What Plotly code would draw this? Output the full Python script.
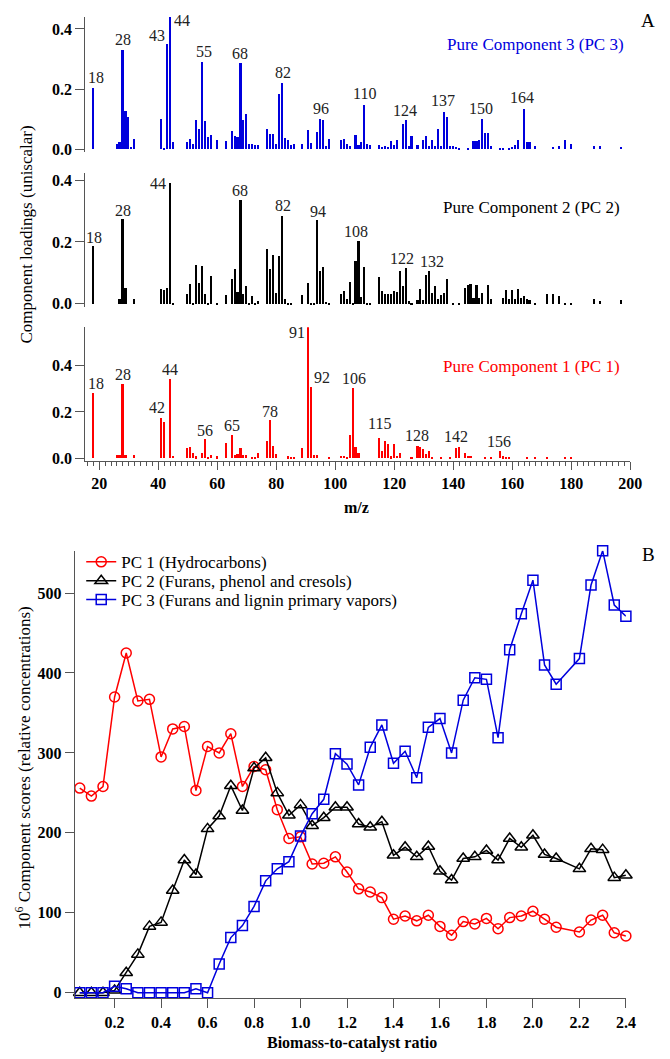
import plotly.graph_objects as go

W, H = 670, 1059
FONT = "Liberation Serif, Times New Roman, serif"
AX = "#555555"
BLUE = "#0000dd"
RED = "#ff0000"
BLACK = "#000000"

# ---------------- Panel A : pure component mass spectra ----------------
pc3_mz = [15, 18, 26, 27, 28, 29, 30, 31, 32, 41, 42, 43, 44, 45, 50, 51, 52, 53, 54, 55, 56, 57, 58, 60,
          63, 65, 66, 67, 68, 69, 70, 71, 72, 73, 74, 77, 78, 79, 80, 81, 82, 83, 84, 85, 86, 89, 91, 92,
          94, 95, 96, 97, 98, 102, 103, 104, 105, 107, 108, 109, 110, 111, 112, 115, 116, 117, 118, 119,
          120, 121, 123, 124, 125, 126, 128, 130, 131, 132, 133, 134, 135, 136, 137, 138, 139, 140, 141,
          142, 145, 147, 148, 149, 150, 151, 152, 153, 156, 157, 159, 160, 161, 162, 164, 165, 166, 168,
          174, 176, 178, 180, 188, 190, 197]
pc3_val = [0.011, 0.204, 0.018, 0.025, 0.33, 0.127, 0.108, 0.009, 0.036, 0.102, 0.003, 0.35, 0.44, 0.026,
           0.026, 0.036, 0.018, 0.097, 0.067, 0.29, 0.093, 0.04, 0.048, 0.031,
           0.027, 0.062, 0.043, 0.04, 0.287, 0.097, 0.119, 0.018, 0.018, 0.014, 0.014, 0.067, 0.052, 0.052,
           0.018, 0.185, 0.22, 0.037, 0.03, 0.013, 0.018, 0.018, 0.064, 0.021,
           0.058, 0.1, 0.099, 0.012, 0.033, 0.031, 0.033, 0.018, 0.012, 0.048, 0.016, 0.023, 0.146, 0.018,
           0.016, 0.014, 0.008, 0.012, 0.008, 0.027,
           0.016, 0.03, 0.086, 0.097, 0.012, 0.045, 0.014, 0.031, 0.046, 0.012, 0.031, 0.012, 0.067, 0.012,
           0.125, 0.108, 0.012, 0.012, 0.008,
           0.004, 0.002, 0.028, 0.028, 0.031, 0.1, 0.053, 0.053, 0.012, 0.002, 0.002, 0.005, 0.009, 0.014,
           0.031, 0.134, 0.023, 0.023, 0.012,
           0.009, 0.012, 0.03, 0.018, 0.012, 0.012, 0.008]

pc2_mz = [18, 27, 28, 29, 32, 41, 42, 43, 44, 45, 50, 51, 52, 53, 54, 55, 56, 57, 58, 60, 63, 65, 66, 67,
          68, 69, 70, 71, 72, 73, 74, 77, 78, 79, 80, 81, 82, 83, 84, 85, 89, 91, 92, 93, 94, 95, 96, 97,
          98, 102, 103, 104, 105, 106, 107, 108, 109, 110, 111, 112, 115, 116, 117, 118, 119, 120, 121,
          122, 123, 124, 125, 126, 128, 129, 130, 131, 132, 133, 134, 135, 136, 137, 138, 140, 142, 144,
          145, 146, 147, 148, 149, 150, 152, 153, 157, 158, 159, 160, 161, 162, 163, 164, 165, 166, 168,
          172, 174, 176, 178, 180, 188, 190, 197]
pc2_val = [0.188, 0.018, 0.275, 0.053, 0.018, 0.05, 0.047, 0.053, 0.394, 0.003, 0.034, 0.065, 0.003, 0.126,
           0.068, 0.123, 0.034, 0.003, 0.09, 0.003, 0.028, 0.08, 0.115, 0.04,
           0.336, 0.032, 0.059, 0.003, 0.026, 0.003, 0.01, 0.18, 0.115, 0.16, 0.035, 0.157, 0.287, 0.018,
           0.004, 0.003, 0.029, 0.067, 0.003, 0.003, 0.272, 0.108, 0.12, 0.007,
           0.003, 0.032, 0.042, 0.016, 0.072, 0.003, 0.139, 0.204, 0.024, 0.119, 0.004, 0.003, 0.088, 0.042,
           0.034, 0.034, 0.032, 0.044, 0.038,
           0.107, 0.058, 0.117, 0.011, 0.003, 0.013, 0.048, 0.013, 0.093, 0.107, 0.036, 0.059, 0.015, 0.031,
           0.036, 0.083, 0.003, 0.003, 0.051,
           0.062, 0.064, 0.02, 0.062, 0.019, 0.037, 0.062, 0.015, 0.02, 0.047, 0.015, 0.047, 0.015, 0.05,
           0.02, 0.026, 0.015, 0.013, 0.003,
           0.032, 0.032, 0.026, 0.004, 0.003, 0.016, 0.01, 0.013]

pc1_mz = [18, 26, 27, 28, 29, 32, 41, 42, 44, 45, 50, 51, 52, 53, 55, 56, 57, 58, 60, 63, 65, 66, 67, 68,
          69, 70, 72, 73, 74, 77, 78, 79, 80, 84, 85, 86, 89, 91, 92, 93, 94, 98, 102, 103, 104, 105, 106,
          107, 108, 115, 116, 117, 118, 119, 120, 121, 122, 126, 128, 129, 130, 131, 132, 133, 136, 139,
          141, 142, 144, 145, 146, 151, 153, 156, 157, 158, 159, 165, 168, 172, 178, 180]
pc1_val = [0.28, 0.013, 0.013, 0.32, 0.013, 0.013, 0.173, 0.157, 0.341, 0.009, 0.044, 0.049, 0.02, 0.007,
           0.02, 0.083, 0.004, 0.013, 0.007, 0.066, 0.099, 0.013, 0.016, 0.044,
           0.013, 0.013, 0.004, 0.004, 0.02, 0.074, 0.166, 0.054, 0.017, 0.007, 0.004, 0.004, 0.044, 0.565,
           0.306, 0.013, 0.013, 0.004, 0.011, 0.009, 0.003, 0.099, 0.301,
           0.05, 0.023, 0.087, 0.029, 0.074, 0.061, 0.007, 0.059, 0.011, 0.023, 0.004, 0.053, 0.05, 0.04,
           0.017, 0.031, 0.004, 0.004, 0.004,
           0.044, 0.049, 0.023, 0.011, 0.011, 0.004, 0.004, 0.029, 0.007, 0.004, 0.004, 0.004, 0.004,
           0.004, 0.004, 0.004]

# peak labels: (text, m/z of the bar it sits on, placement, dx, dy)
pc3_labels = [("18", 18, "top", 3, 0), ("28", 28, "top", 0, 0), ("43", 43, "top", -10, -2),
              ("44", 44, "right", 2, -4), ("55", 55, "top", 1, 0), ("68", 68, "top", -1, -1),
              ("82", 82, "top", 1, 0), ("96", 96, "top", -2, 0), ("110", 110, "top", 0, 1),
              ("124", 124, "top", -1, -1), ("137", 137, "top", -1, 1), ("150", 150, "top", -2, 0),
              ("164", 164, "top", -2, 1)]
pc2_labels = [("18", 18, "top", 1, -2), ("28", 28, "top", 0, -2), ("44", 44, "left", -2, -1),
              ("68", 68, "top", -1, -1), ("82", 82, "top", 1, -1), ("94", 94, "top", 0, -2),
              ("108", 108, "top", -3, -1), ("122", 124, "top", -4, -1), ("132", 132, "top", 2, -1)]
pc1_labels = [("18", 18, "top", 3, -1), ("28", 28, "top", 0, -1), ("42", 41, "top", -4, 0),
              ("44", 44, "top", 0, -1), ("56", 56, "top", 0, -2), ("65", 65, "top", 0, -1),
              ("78", 78, "top", 0, -2), ("91", 91, "left", -2, -5), ("92", 92, "rtop", 0, -1),
              ("106", 106, "top", 1, 0), ("115", 115, "top", 0, 4), ("128", 128, "top", -1, 0),
              ("142", 142, "top", -3, 0), ("156", 156, "top", -1, 0)]

mz_ticks = [20, 40, 60, 80, 100, 120, 140, 160, 180, 200]
load_ticks = [0.0, 0.2, 0.4]

# ---------------- Panel B : component scores ----------------
ratio = [0.05, 0.10, 0.15, 0.20, 0.25, 0.30, 0.35, 0.40, 0.45, 0.50, 0.55, 0.60, 0.65, 0.70, 0.75, 0.80,
         0.85, 0.90, 0.95, 1.00, 1.05, 1.10, 1.15, 1.20, 1.25, 1.30, 1.35, 1.40, 1.45, 1.50, 1.55, 1.60,
         1.65, 1.70, 1.75, 1.80, 1.85, 1.90, 1.95, 2.00, 2.05, 2.10, 2.20, 2.25, 2.30, 2.35, 2.40]
score_pc1 = [256, 246, 258, 370, 425, 365, 367, 295, 330, 333, 253, 308, 300, 324, 258, 283,
             279, 229, 193, 195, 161, 162, 170, 151, 130, 126, 119, 92, 96, 90, 97, 83,
             72, 89, 86, 93, 80, 94, 96, 102, 92, 82, 76, 91, 97, 75, 71]
score_pc2 = [0, 0, 0, 3, 25, 48, 83, 88, 128, 166, 148, 205, 221, 259, 228, 281,
             294, 250, 222, 235, 209, 219, 232, 232, 211, 207, 214, 172, 182, 170, 183, 152,
             141, 168, 170, 178, 166, 193, 182, 197, 173, 168, 155, 180, 179, 144, 147]
score_pc3 = [0, 0, 0, 8, 5, 0, 0, 0, 0, 0, 5, 0, 36, 69, 84, 108,
             140, 155, 164, 196, 224, 242, 299, 286, 260, 307, 335, 287, 302, 269, 332, 343,
             300, 366, 394, 392, 319, 429, 474, 516, 410, 386, 418, 510, 553, 485, 471]
ratio_ticks = [0.2, 0.4, 0.6, 0.8, 1.0, 1.2, 1.4, 1.6, 1.8, 2.0, 2.2, 2.4]
score_ticks = [0, 100, 200, 300, 400, 500]
series_names = ["PC 1 (Hydrocarbons)", "PC 2 (Furans, phenol and cresols)",
                "PC 3 (Furans and lignin primary vapors)"]


def px_x(p):
    return p / W


def px_y(p):
    return 1 - p / H


fig = go.Figure()

panels = [
    (pc3_mz, pc3_val, BLUE, "x", "y", pc3_labels),
    (pc2_mz, pc2_val, BLACK, "x2", "y2", pc2_labels),
    (pc1_mz, pc1_val, RED, "x3", "y3", pc1_labels),
]
for mz, val, col, xa, ya, labels in panels:
    fig.add_trace(go.Bar(x=mz, y=val, width=0.55, marker=dict(color=col, line=dict(width=0)),
                         xaxis=xa, yaxis=ya, showlegend=False, hoverinfo="skip"))

annotations = []
for mz, val, col, xa, ya, labels in panels:
    lookup = dict(zip(mz, val))
    for text, at, mode, dx, dy in labels:
        if mode == "top":
            xan, yan = "center", "bottom"
        elif mode == "left":
            xan, yan = "right", "middle"
        elif mode == "right":
            xan, yan = "left", "middle"
        else:
            xan, yan = "left", "bottom"
        annotations.append(dict(x=at, y=lookup[at], xref=xa, yref=ya, text=text, showarrow=False,
                                xanchor=xan, yanchor=yan, xshift=dx, yshift=dy,
                                font=dict(family=FONT, size=16, color="#222222")))

# line traces of panel B (each in its own one-row legend to control row spacing)
styles = [
    (score_pc1, RED, "circle-open", 10, "legend"),
    (score_pc2, BLACK, "triangle-up-open", 11, "legend2"),
    (score_pc3, BLUE, "square-open", 10, "legend3"),
]
for (ys, col, sym, sz, lg), name in zip(styles, series_names):
    fig.add_trace(go.Scatter(x=ratio, y=ys, mode="lines+markers", name=name, legend=lg,
                             line=dict(color=col, width=1.5),
                             marker=dict(symbol=sym, size=sz, color=col, line=dict(width=1.5, color=col)),
                             xaxis="x4", yaxis="y4", cliponaxis=False))

tickfont = dict(family=FONT, size=16, color="#000000", weight="bold")

xdom_a = [px_x(86.7), px_x(641.7)]
xrange_a = [15.2, 200]
ydefs = {
    "yaxis": ([px_y(152.3), px_y(16.0)], [-0.01, 0.44]),
    "yaxis2": ([px_y(307.8), px_y(172.7)], [-0.01, 0.425]),
    "yaxis3": ([px_y(462.6), px_y(328.3)], [-0.01, 0.566]),
}
legfont = dict(family=FONT, size=17, color="#000000")
layout = dict(
    width=W, height=H, margin=dict(l=0, r=0, t=0, b=0),
    paper_bgcolor="white", plot_bgcolor="rgba(0,0,0,0)",
    font=dict(family=FONT, size=16, color="#000000"),
    showlegend=True, bargap=0,
)
for lg, row in zip(["legend", "legend2", "legend3"], [565, 584, 603]):
    layout[lg] = dict(x=px_x(82.7), y=px_y(row), xanchor="left", yanchor="middle",
                      bgcolor="rgba(0,0,0,0)", font=legfont, itemwidth=30)

for i, xa in enumerate(["xaxis", "xaxis2", "xaxis3"]):
    anchor = ["y", "y2", "y3"][i]
    d = dict(domain=xdom_a, range=xrange_a, anchor=anchor, showgrid=False, zeroline=False,
             fixedrange=True)
    if xa == "xaxis3":
        d.update(showline=True, linecolor=AX, linewidth=1, ticks="outside", ticklen=8,
                 tickcolor=AX, tickmode="array", tickvals=mz_ticks,
                 tickfont=tickfont,
                 minor=dict(dtick=2, tick0=0, ticks="outside", ticklen=4, tickcolor=AX, showgrid=False))
    else:
        d.update(showline=False, showticklabels=False, ticks="")
    layout[xa] = d
for ya, xa in zip(["yaxis", "yaxis2", "yaxis3"], ["x", "x2", "x3"]):
    dom, rng = ydefs[ya]
    layout[ya] = dict(domain=dom, range=rng, anchor=xa, showgrid=False, zeroline=False,
                      showline=True, linecolor=AX, linewidth=1, ticks="outside", ticklen=9,
                      tickcolor=AX, tickmode="array", tickvals=load_ticks, tickformat=".1f",
                      tickfont=tickfont, fixedrange=True)

layout["xaxis4"] = dict(domain=[px_x(76), px_x(637.3)], range=[0.028, 2.4], anchor="y4",
                        showgrid=False, zeroline=False, showline=True, linecolor=AX, linewidth=1,
                        ticks="outside", ticklen=9, tickcolor=AX, tickmode="array",
                        tickvals=ratio_ticks, tickformat=".1f", tickfont=tickfont)
layout["yaxis4"] = dict(domain=[px_y(1004), px_y(553.3)], range=[-7, 553], anchor="x4",
                        showgrid=False, zeroline=False, showline=True, linecolor=AX, linewidth=1,
                        ticks="outside", ticklen=9, tickcolor=AX, tickmode="array",
                        tickvals=score_ticks, tickfont=tickfont)

textfont = dict(family=FONT, size=17, color="#000000")


def note(xp, yp, text, font, angle=0):
    return dict(x=px_x(xp), y=px_y(yp), xref="paper", yref="paper", text=text, showarrow=False,
                xanchor="center", yanchor="middle", textangle=angle, font=font)


annotations += [
    note(545, 43.5, "Pure Component 3 (PC 3)", dict(family=FONT, size=17, color=BLUE)),
    note(541, 208, "Pure Component 2 (PC 2)", dict(family=FONT, size=17, color=BLACK)),
    note(541, 367.5, "Pure Component 1 (PC 1)", dict(family=FONT, size=17, color=RED)),
    note(660, 20, "A", dict(family=FONT, size=19, color="#000000")),
    note(660, 557, "B", dict(family=FONT, size=19, color="#000000")),
    note(26.5, 235, "Component loadings (uniscalar)", textfont, -90),
    note(363, 510, "m/z", dict(family=FONT, size=16, color="#000000", weight="bold")),
    note(23, 772, "10<sup>6</sup> Component scores (relative concentrations)", textfont, -90),
    note(358, 1049, "Biomass-to-catalyst ratio", dict(family=FONT, size=16, color="#000000", weight="bold")),
]
layout["annotations"] = annotations
fig.update_layout(**layout)
fig.write_html("out.html")
